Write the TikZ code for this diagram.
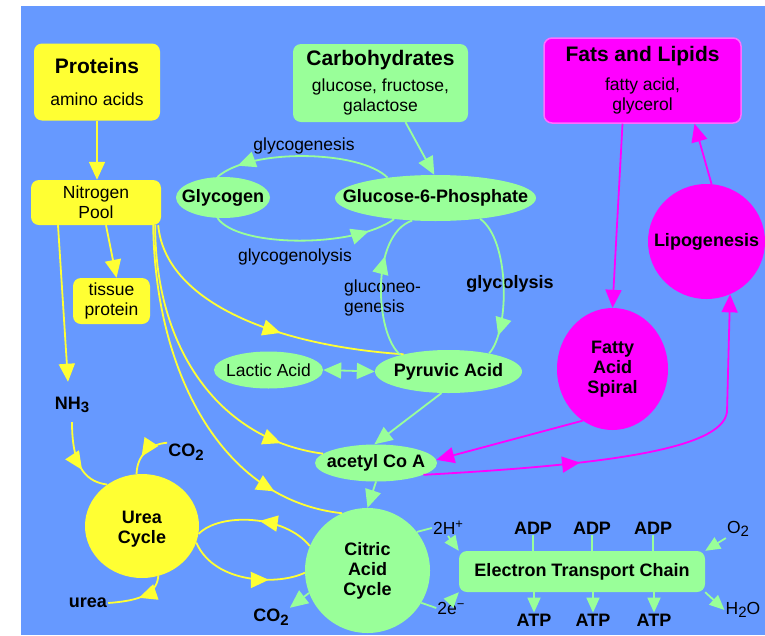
\documentclass[tikz,border=0pt]{standalone}
\usepackage{fontspec}
\setmainfont{Liberation Sans}
\usetikzlibrary{arrows.meta,shapes.geometric,decorations.markings}

\definecolor{bgblue}{RGB}{102,153,255}
\definecolor{leaf}{RGB}{153,255,153}
\definecolor{lemon}{RGB}{255,255,51}
\definecolor{fuchsia}{RGB}{255,0,255}
\definecolor{fuchsiaedge}{RGB}{255,110,255}

\newcommand\regf{\fontsize{17.5}{20}\selectfont}
\newcommand\boldf{\fontsize{18}{20}\selectfont\bfseries}
\newcommand\titlef{\fontsize{21}{22}\selectfont\bfseries}
\newcommand\lowr[1]{\raisebox{-3.5pt}{\fontsize{15}{15}\selectfont #1}}
\newcommand\upr[1]{\raisebox{6pt}{\fontsize{13}{13}\selectfont #1}}

\tikzset{
  srcbox/.style={rectangle,rounded corners=8pt,align=center,font=\regf,inner sep=0pt},
  oval/.style={ellipse,fill=leaf,font=\boldf,inner xsep=-30pt,inner ysep=0pt},
  cyc/.style={ellipse,font=\boldf,align=center,inner sep=0pt},
  lbl/.style={font=\regf,inner sep=1pt},
  blbl/.style={font=\boldf,inner sep=1pt},
  yline/.style={draw=lemon,line width=1.8pt},
  gline/.style={draw=leaf,line width=1.8pt},
  mline/.style={draw=fuchsia,line width=1.8pt},
  midtip/.style={postaction={decorate},decoration={markings,mark=at position #1 with {\arrow{>}}}},
  smalltip/.style={>={Triangle[length=15pt,width=13pt]}}
}

\begin{document}
\begin{tikzpicture}[x=1pt,y=-1pt,>={Triangle[length=18pt,width=16pt]}]
	\useasboundingbox (0,0) rectangle (765,635);
	\fill[white] (0,0) rectangle (765,635);
	\fill[bgblue] (21,6) rectangle (765,635);

	% food sources
	\node[srcbox,fill=lemon,minimum width=126,minimum height=77] (prot) at (97,82) {{\titlef Proteins}\\[12pt]amino acids};
	\node[srcbox,fill=leaf,minimum width=175,minimum height=78] (carb) at (380.5,83) {{\titlef Carbohydrates}\\[6pt]glucose, fructose,\\galactose};
	\node[srcbox,fill=fuchsia,draw=fuchsiaedge,line width=1.5pt,minimum width=197,minimum height=85] (fats) at (642.5,80.5) {{\titlef Fats and Lipids}\\[9pt]fatty acid,\\glycerol};

	% nitrogen side
	\node[srcbox,fill=lemon,minimum width=130,minimum height=45] (np) at (96,202.5) {Nitrogen\\Pool};
	\node[srcbox,fill=lemon,minimum width=77,minimum height=46] (tis) at (111.5,301) {tissue\\protein};
	\node[blbl] (nh3) at (72,405) {NH\lowr{3}};
	\node[cyc,fill=lemon,minimum width=114,minimum height=104,text height=38pt] (urea) at (142,526) {Urea\\Cycle};
	\node[blbl] (co2a) at (186,452) {CO\lowr{2}};
	\node[blbl] (ureat) at (88,603) {urea};

	% sugars
	\node[oval,minimum width=94,minimum height=41] (glyc) at (223,197.5) {Glycogen};
	\node[oval,minimum width=201,minimum height=46] (g6p) at (435.5,198) {Glucose-6-Phosphate};
	\node[oval,font=\regf,minimum width=109,minimum height=37] (lac) at (268.5,370) {Lactic Acid};
	\node[oval,minimum width=147,minimum height=43] (pyr) at (448.5,371.5) {Pyruvic Acid};
	\node[oval,minimum width=122,minimum height=37] (acet) at (376,463) {acetyl Co A};
	\node[cyc,fill=leaf,minimum width=125,minimum height=125] (cit) at (367.5,570.5) {Citric\\Acid\\Cycle};
	\node[blbl] (co2b) at (271,617) {CO\lowr{2}};

	\node[lbl] (gen) at (304,146) {glycogenesis};
	\node[lbl] (lys) at (295,257) {glycogenolysis};
	\node[lbl,align=left,anchor=west] (gng) at (343,298) {gluconeo-\\genesis};
	\node[blbl] (gly) at (510,284) {glycolysis};

	% fats
	\node[cyc,fill=fuchsia,minimum width=111,minimum height=122] (fas) at (612.5,369) {Fatty\\Acid\\Spiral};
	\node[cyc,fill=fuchsia,inner sep=-18pt,minimum width=117,minimum height=115] (lipo) at (706.5,241.5) {Lipogenesis};

	% electron transport chain
	\node[srcbox,fill=leaf,font=\boldf,minimum width=246,minimum height=41] (etc) at (582,571.5) {Electron Transport Chain};
	\node[lbl] (h2) at (448,528) {2H\upr{+}};
	\node[lbl] (e2) at (451,608) {2e\upr{−}};
	\node[lbl] (o2) at (738,529) {O\lowr{2}};
	\node[lbl] (h2o) at (743,610) {H\lowr{2}O};
	\foreach \x [count=\i] in {533,592,653}{
		\node[blbl] (adp\i) at (\x,528) {ADP};
		\node[blbl] (atp\i) at (\x+1,620) {ATP};
		\draw[gline] (adp\i.south) -- (adp\i.south |- etc.north);
		\draw[gline,smalltip,->] (atp\i.north |- etc.south) -- (atp\i.north);
	}

	% yellow connectors
	\draw[yline,->] (prot.south) -- (prot.south |- np.north);
	\draw[yline,->] ([xshift=10pt]np.south) -- ([xshift=5pt]tis.north);
	\draw[yline,->] ([xshift=-38pt]np.south) -- ([shift={(-4pt,14pt)}]nh3.north);
	\draw[yline,midtip=0.58] ([xshift=-3pt]np.south east) .. controls (165,300) and (270,345) .. (pyr.159);
	\draw[yline,midtip=0.86] ([xshift=-6pt]np.south east) .. controls (155,350) and (220,440) .. (acet.170);
	\draw[yline,midtip=0.81] ([xshift=-8pt]np.south east) .. controls (155,370) and (220,500) .. (cit.114);
	\draw[yline,midtip=0.62] ([yshift=-8pt]nh3.south) .. controls (72,470) and (88,482) .. (urea.130);
	\draw[yline,midtip=0.62] (co2a.north west) .. controls (150,444) and (137,455) .. (urea.96);
	\draw[yline,midtip=0.5] (urea.-72) .. controls (157,596) and (135,601) .. (ureat.east);
	\draw[yline,midtip=0.47] (cit.157) .. controls (285,515) and (220,512) .. (urea.-8);
	\draw[yline,midtip=0.7] (urea.-17) .. controls (215,585) and (280,585) .. (cit.182);

	% green connectors
	\draw[gline,->] ([xshift=25pt]carb.south) -- (g6p.93);
	\draw[gline,midtip=0.87] (g6p.157) .. controls (360,150) and (250,148) .. (glyc.105);
	\draw[gline,midtip=0.85] (glyc.255) .. controls (238,248) and (355,248) .. (g6p.207);
	\draw[gline,midtip=0.69] (pyr.161) .. controls (375,335) and (370,235) .. (g6p.224);
	\draw[gline,midtip=0.86] (g6p.-25) .. controls (510,240) and (510,330) .. (pyr.24);
	\draw[gline,<->] (lac.east) -- (pyr.west);
	\draw[gline,->] (pyr.252) -- (acet.95);
	\draw[gline,->] (acet.south) -- (cit.north);
	\draw[gline,->] (cit.201) -- (co2b.north east);
	\draw[gline] (cit.38) -- (h2.west);
	\draw[gline,smalltip,->] (h2.south) -- (etc.north west);
	\draw[gline] (cit.-31) -- (e2.west);
	\draw[gline,smalltip,->] (e2.north) -- (etc.south west);
	\draw[gline,smalltip,->] (o2.south west) -- (etc.north east);
	\draw[gline,smalltip,->] (etc.south east) -- (h2o.west);

	% magenta connectors
	\draw[mline,->] ([xshift=-20pt]fats.south) -- (fas.north);
	\draw[mline,->] (lipo.85) -- ([xshift=52pt]fats.south);
	\draw[mline,->] (fas.240) -- (acet.3);
	\draw[mline,->,midtip=0.36] (acet.-14) .. controls (600,465) and (722,450) .. (727,412) -- (lipo.-66);
\end{tikzpicture}
\end{document}
